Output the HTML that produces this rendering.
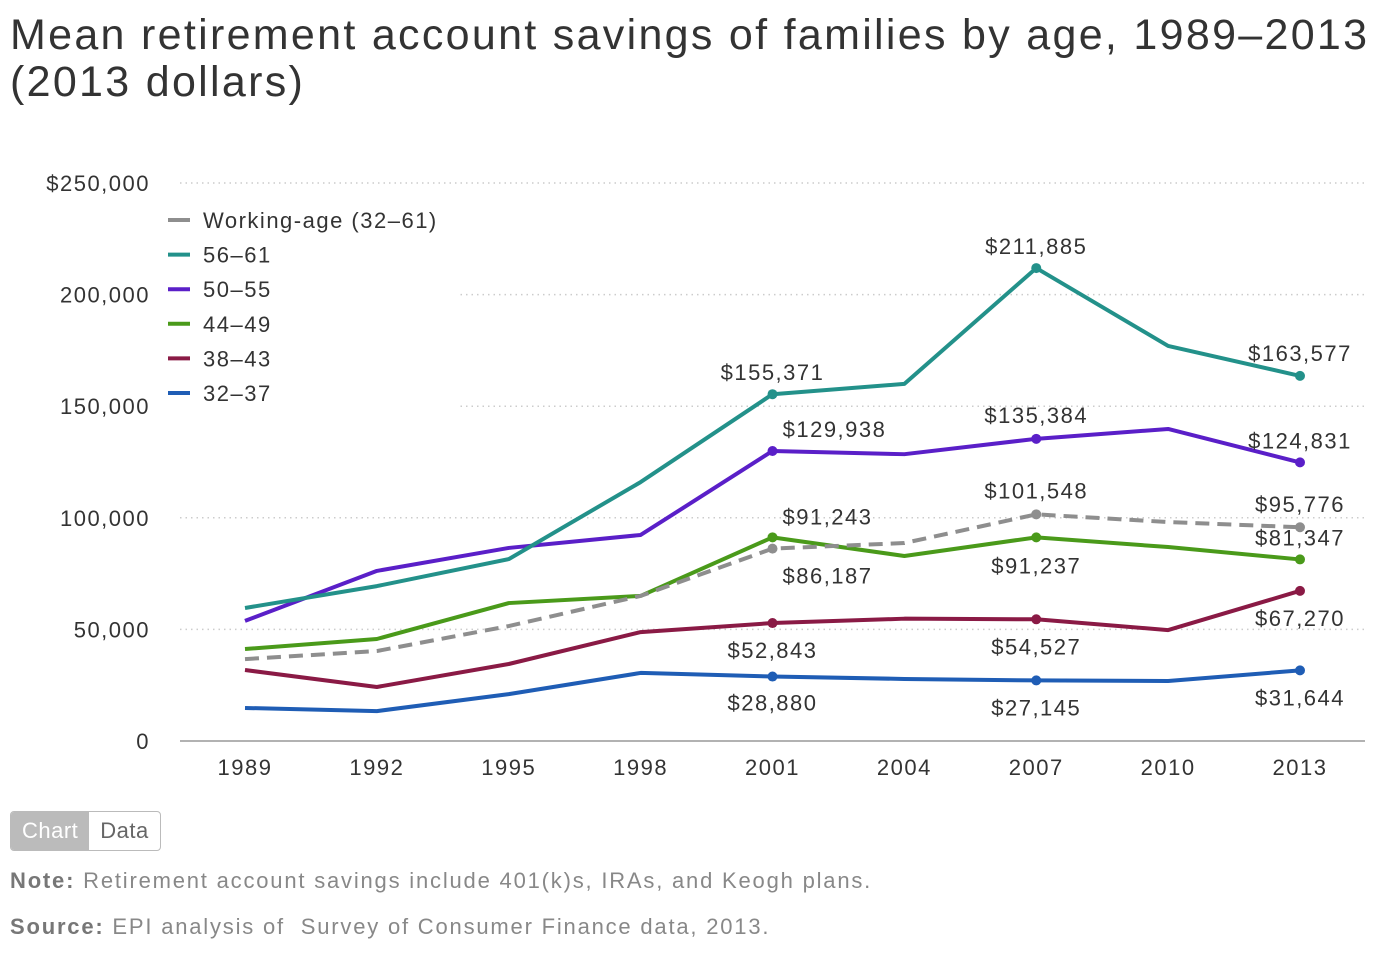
<!DOCTYPE html>
<html><head><meta charset="utf-8"><style>
body{margin:0;background:#fff;width:1394px;height:954px;overflow:hidden;font-family:"Liberation Sans",sans-serif}
#title{position:absolute;left:10px;top:12px;font-size:43px;line-height:47px;color:#333;letter-spacing:2.3px}
.btns{position:absolute;left:10px;top:811px;height:38px;border:1px solid #bbb;border-radius:4px;display:flex;overflow:hidden;font-size:22px}
.btns div{padding:0 11px;line-height:38px;letter-spacing:0.5px}
.note{position:absolute;left:10px;font-size:22px;color:#888;letter-spacing:1.8px}
.note b{color:#777}
svg text{letter-spacing:1.5px}
</style></head><body>
<div id="title">Mean retirement account savings of families by age, 1989–2013<br>(2013 dollars)</div>
<svg id="chart" width="1394" height="800" style="position:absolute;left:0;top:0"></svg>
<div class="btns">
<div style="background:#bbb;color:#fff">Chart</div>
<div style="color:#666">Data</div></div>
<div class="note" style="top:868px"><b>Note:</b> Retirement account savings include 401(k)s, IRAs, and Keogh plans.</div>
<div class="note" style="top:914px"><b>Source:</b> EPI analysis of &nbsp;Survey of Consumer Finance data, 2013.</div>
<script>
const years=[1989,1992,1995,1998,2001,2004,2007,2010,2013];
const yTicks=[0,50000,100000,150000,200000,250000];
const yTickLabels=["0","50,000","100,000","150,000","200,000","$250,000"];
const seriesNames=["Working-age (32–61)","56–61","50–55","44–49","38–43","32–37"];
const working=[36700,40300,51500,65000,86187,88700,101548,98100,95776];
const s5661=[59600,69400,81500,116000,155371,160000,211885,177000,163577];
const s5055=[53800,76200,86500,92300,129938,128500,135384,139800,124831];
const s4449=[41200,45700,61800,65000,91243,82900,91237,86900,81347];
const s3843=[31800,24200,34500,48800,52843,54800,54527,49700,67270];
const s3237=[14800,13400,21000,30500,28880,27800,27145,26900,31644];
const allSeries=[working,s5661,s5055,s4449,s3843,s3237];
const colors=["#8e8e8e","#23918a","#5a1fc8","#4a9a1a","#8a1a45","#1f5db5"];
// annotations: series index, year index
const annSeries=[1,1,2,2,1,2,0,0,3,3,0,3,4,4,4,5,5,5];
const annYear=[6,4,4,6,8,8,6,8,8,4,4,6,4,6,8,4,6,8];
const annDx=[0,0,62,0,0,0,0,0,0,55,55,0,0,0,0,0,0,0];
const annDy=[-22,-22,-22,-24,-23,-22,-24,-23,-22,-21,27,28,27,27,27,26,27,27];
const ns="http://www.w3.org/2000/svg";
const svg=document.getElementById('chart');
const X=y=>245+(y-1989)/24*1055;
const Y=v=>741-v/250000*558;
function mk(t,a){const e=document.createElementNS(ns,t);for(const k in a)e.setAttribute(k,a[k]);svg.appendChild(e);return e;}
yTicks.forEach((t,i)=>{
 const g=mk('line',{x1:180,x2:1365,y1:Y(t),y2:Y(t),stroke:i==0?'#999':'#ccc','stroke-width':1.5,'stroke-dasharray':i==0?'':'1.5 4'});
 
 const l=mk('text',{x:150,y:Y(t)+8,'text-anchor':'end','font-size':22,fill:'#333'});l.textContent=yTickLabels[i];
 
});
years.forEach(y=>{
 const l=mk('text',{x:X(y),y:775,'text-anchor':'middle','font-size':22,fill:'#333'});l.textContent=y;
 
});
const lb=mk('rect',{x:160,y:198,width:300,height:212,fill:'#fff'});

const order=[5,4,3,2,1,0];
order.forEach(si=>{
 const d=allSeries[si];
 const p=mk('polyline',{points:d.map((v,i)=>X(years[i])+','+Y(v)).join(' '),fill:'none',stroke:colors[si],'stroke-width':4,'stroke-linejoin':'round','stroke-dasharray':si==0?'14 8':''});
 
 
 [4,6,8].forEach(i=>{const c=mk('circle',{cx:X(years[i]),cy:Y(d[i]),r:5,fill:colors[si]});
  });
});
annSeries.forEach((si,k)=>{
 const yi=annYear[k];const v=allSeries[si][yi];
 const t=mk('text',{x:X(years[yi])+annDx[k],y:Y(v)+annDy[k]+8,'text-anchor':'middle','font-size':22,fill:'#333'});
 t.textContent='$'+v.toLocaleString('en-US');
 
});
seriesNames.forEach((n,i)=>{
 const y=220+i*34.6;
 const m=mk('line',{x1:168,x2:190,y1:y,y2:y,stroke:colors[i],'stroke-width':4});
 
 const t=mk('text',{x:203,y:y+8,'font-size':22,fill:'#333'});t.textContent=n;
 
});
</script>
</body></html>
